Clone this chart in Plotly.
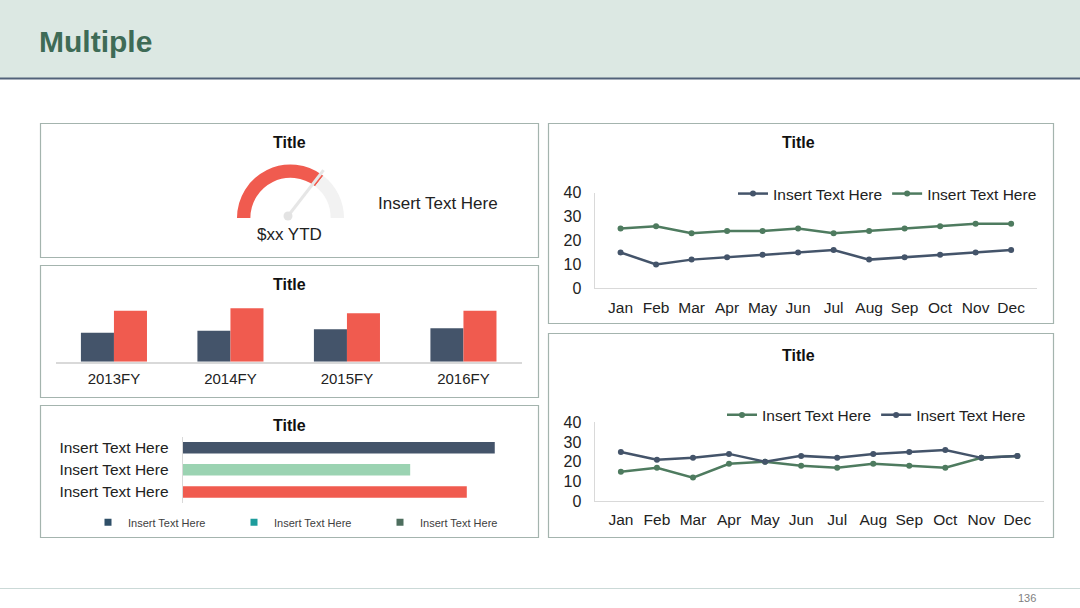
import math
import plotly.graph_objects as go

W, H = 1080, 608

# ---------------- data ----------------
page_title = "Multiple"
page_number = "136"
panel_title = "Title"

gauge_value = 71          # percent of gauge filled
gauge_label = "$xx YTD"
gauge_side_text = "Insert Text Here"

fy_categories = ["2013FY", "2014FY", "2015FY", "2016FY"]
fy_series_a = [29, 31, 32.5, 33.5]
fy_series_b = [51, 53.5, 48.5, 51]

hbar_labels = ["Insert Text Here", "Insert Text Here", "Insert Text Here"]
hbar_values = [92.6, 67.5, 84.3]
hbar_legend_names = ["Insert Text Here", "Insert Text Here", "Insert Text Here"]

months = ["Jan", "Feb", "Mar", "Apr", "May", "Jun", "Jul", "Aug", "Sep", "Oct", "Nov", "Dec"]
line1_names = ["Insert Text Here", "Insert Text Here"]
line1_a = [15, 10, 12, 13, 14, 15, 16, 12, 13, 14, 15, 16]
line1_b = [25, 26, 23, 24, 24, 25, 23, 24, 25, 26, 27, 27]
line2_names = ["Insert Text Here", "Insert Text Here"]
line2_a = [15, 17, 12, 19, 20, 18, 17, 19, 18, 17, 22, 23]
line2_b = [25, 21, 22, 24, 20, 23, 22, 24, 25, 26, 22, 23]

# ---------------- style ----------------
NAVY = "#44546a"
RED = "#f05b4f"
MINT = "#9bd3b2"
GREEN = "#4e7b5f"
GAUGE_BG = "#f2f2f2"
LEG_COLORS = ["#2f4f68", "#1d9c9c", "#4d6e5e"]
AXIS = "#d9d9d9"
TXT = "#222222"
BORDER = "#a4b4ae"
FONT = "Liberation Sans, Arial, sans-serif"


def fx(px):
    return px / W


def fy(py):
    return 1 - py / H


fig = go.Figure()

# ---- gauge (half donut) ----
gcx, gcy, gr = 290.5, 218.0, 53.5
fig.add_trace(go.Pie(
    values=[gauge_value, 100 - gauge_value, 100],
    marker=dict(colors=[RED, GAUGE_BG, "rgba(0,0,0,0)"], line=dict(width=0)),
    hole=0.75, rotation=-90, direction="clockwise", sort=False,
    textinfo="none", hoverinfo="skip", showlegend=False, automargin=False,
    domain=dict(x=[fx(gcx - gr), fx(gcx + gr)], y=[fy(gcy + gr), fy(gcy - gr)]),
))

# ---- grouped vertical bars ----
fig.add_trace(go.Bar(x=fy_categories, y=fy_series_a, marker=dict(color=NAVY, line=dict(width=0)),
                     xaxis="x", yaxis="y", showlegend=False))
fig.add_trace(go.Bar(x=fy_categories, y=fy_series_b, marker=dict(color=RED, line=dict(width=0)),
                     xaxis="x", yaxis="y", showlegend=False))

# ---- horizontal bars ----
fig.add_trace(go.Bar(y=list(range(len(hbar_values))), x=hbar_values, orientation="h",
                     marker=dict(color=[NAVY, MINT, RED], line=dict(width=0)), width=0.52,
                     xaxis="x2", yaxis="y2", showlegend=False))
for name, col in zip(hbar_legend_names, LEG_COLORS):
    fig.add_trace(go.Scatter(x=[None], y=[None], mode="markers", name=name,
                             marker=dict(symbol="square", size=7, color=col),
                             xaxis="x2", yaxis="y2", legend="legend"))

# ---- line chart 1 ----
for name, vals, col in zip(line1_names, [line1_a, line1_b], [NAVY, GREEN]):
    fig.add_trace(go.Scatter(x=months, y=vals, name=name, mode="lines+markers",
                             line=dict(color=col, width=2.5), marker=dict(size=6, color=col),
                             xaxis="x3", yaxis="y3", legend="legend2"))

# ---- line chart 2 ----
for name, vals, col in zip(line2_names, [line2_a, line2_b], [GREEN, NAVY]):
    fig.add_trace(go.Scatter(x=months, y=vals, name=name, mode="lines+markers",
                             line=dict(color=col, width=2.5), marker=dict(size=6, color=col),
                             xaxis="x4", yaxis="y4", legend="legend3"))

hidden = dict(visible=False, fixedrange=True, automargin=False)
common = dict(automargin=False, fixedrange=True, showgrid=False, zeroline=False, ticks="")

layout = dict(
    template="none",
    width=W, height=H, margin=dict(l=0, r=0, t=0, b=0, pad=0, autoexpand=False),
    paper_bgcolor="white", plot_bgcolor="rgba(0,0,0,0)",
    font=dict(family=FONT, color=TXT),
    barmode="group", bargap=0.433, bargroupgap=0,
    # vertical bar chart
    xaxis=dict(domain=[fx(55.7), fx(521.7)], anchor="y", showline=True, linecolor=AXIS, linewidth=1.5,
               tickfont=dict(size=15, color=TXT), ticklabelstandoff=3, **common),
    yaxis=dict(domain=[fy(361.7), fy(301.7)], anchor="x", range=[0, 60], **hidden),
    # horizontal bar chart
    xaxis2=dict(domain=[fx(182.7), fx(519.7)], anchor="y2", range=[0, 100], **hidden),
    yaxis2=dict(domain=[fy(503), fy(436.7)], anchor="x2", range=[2.5, -0.5],
                tickvals=list(range(len(hbar_labels))), ticktext=hbar_labels,
                showline=True, linecolor=AXIS, linewidth=1.2,
                tickfont=dict(size=15.5, color=TXT), ticklabelstandoff=10, **common),
    # line chart 1
    xaxis3=dict(domain=[fx(594.7), fx(1037)], anchor="y3", showline=True, linecolor=AXIS, linewidth=1.2,
                tickfont=dict(size=15.5, color=TXT), ticklabelstandoff=5, **common),
    yaxis3=dict(domain=[fy(288.3), fy(192.7)], anchor="x3", range=[0, 40], dtick=10, showline=True,
                linecolor=AXIS, linewidth=1.2, tickfont=dict(size=16, color=TXT),
                ticklabelstandoff=9, **common),
    # line chart 2
    xaxis4=dict(domain=[fx(594.7), fx(1043.6)], anchor="y4", showline=True, linecolor=AXIS, linewidth=1.2,
                tickfont=dict(size=15.5, color=TXT), ticklabelstandoff=4, **common),
    yaxis4=dict(domain=[fy(501.3), fy(422.3)], anchor="x4", range=[0, 40], dtick=10, showline=True,
                linecolor=AXIS, linewidth=1.2, tickfont=dict(size=16, color=TXT),
                ticklabelstandoff=9, **common),
    legend=dict(orientation="h", x=fx(88), y=fy(522.3), xanchor="left", yanchor="middle",
                font=dict(size=11, color="#404040"), bgcolor="rgba(0,0,0,0)",
                entrywidth=101, entrywidthmode="pixels", traceorder="normal"),
    legend2=dict(orientation="h", x=fx(733), y=fy(194), xanchor="left", yanchor="middle",
                 font=dict(size=15.5, color=TXT), bgcolor="rgba(0,0,0,0)", traceorder="normal"),
    legend3=dict(orientation="h", x=fx(722), y=fy(415.3), xanchor="left", yanchor="middle",
                 font=dict(size=15.5, color=TXT), bgcolor="rgba(0,0,0,0)", traceorder="normal"),
)
fig.update_layout(**layout)

shapes = []
# header band
shapes.append(dict(type="rect", xref="paper", yref="paper", x0=0, x1=1, y0=fy(78), y1=1,
                   fillcolor="#dce8e3", line=dict(width=0), layer="below"))
shapes.append(dict(type="line", xref="paper", yref="paper", x0=0, x1=1, y0=fy(78.5), y1=fy(78.5),
                   line=dict(color="#52627a", width=2)))
# footer line
shapes.append(dict(type="line", xref="paper", yref="paper", x0=0, x1=1, y0=fy(588.5), y1=fy(588.5),
                   line=dict(color="#cbd9d7", width=1)))
# panels
for (x0, y0, x1, y1) in [(40.5, 123.5, 538.5, 257.5), (40.5, 265.5, 538.5, 397.5),
                         (40.5, 405.5, 538.5, 537.5), (548.5, 123.5, 1053.5, 323.5),
                         (548.5, 333.5, 1053.5, 537.5)]:
    shapes.append(dict(type="rect", xref="paper", yref="paper", x0=fx(x0), x1=fx(x1), y0=fy(y1), y1=fy(y0),
                       line=dict(color=BORDER, width=1.2), fillcolor="rgba(0,0,0,0)", layer="below"))
# gauge needle derived from the gauge value
ang = math.radians(180 * (1 - gauge_value / 100))
ncx, ncy, nlen = 288.0, 216.0, 58.0
shapes.append(dict(type="line", xref="paper", yref="paper",
                   x0=fx(ncx), y0=fy(ncy),
                   x1=fx(ncx + nlen * math.cos(ang)), y1=fy(ncy - nlen * math.sin(ang)),
                   line=dict(color="#e6e6e6", width=3)))
shapes.append(dict(type="circle", xref="paper", yref="paper",
                   x0=fx(ncx - 4.5), x1=fx(ncx + 4.5), y0=fy(ncy + 4.5), y1=fy(ncy - 4.5),
                   fillcolor="#e3e3e3", line=dict(width=0)))
fig.update_layout(shapes=shapes)

ann = []
ann.append(dict(text=f"<b>{page_title}</b>", x=fx(37), y=fy(41), xanchor="left", yanchor="middle",
                font=dict(size=30, color="#3e6b56")))
ann.append(dict(text=page_number, x=fx(1027), y=fy(598), xanchor="center", yanchor="middle",
                font=dict(size=11, color="#7f7f7f")))
for (x, y) in [(289, 142.5), (289, 284), (289, 425), (798, 142.5), (798, 355)]:
    ann.append(dict(text=f"<b>{panel_title}</b>", x=fx(x), y=fy(y), xanchor="center", yanchor="middle",
                    font=dict(size=16, color="#111111")))
ann.append(dict(text=gauge_label, x=fx(289), y=fy(234.5), xanchor="center", yanchor="middle",
                font=dict(size=17, color=TXT)))
ann.append(dict(text=gauge_side_text, x=fx(438), y=fy(203.5), xanchor="center", yanchor="middle",
                font=dict(size=17, color=TXT)))
for a in ann:
    a.update(xref="paper", yref="paper", showarrow=False)
fig.update_layout(annotations=ann)

fig.write_html(
    "out.html",
    config={"displayModeBar": False},
    post_script="document.body.style.margin='0';document.body.style.padding='0';"
                "document.documentElement.style.overflow='hidden';",
)
